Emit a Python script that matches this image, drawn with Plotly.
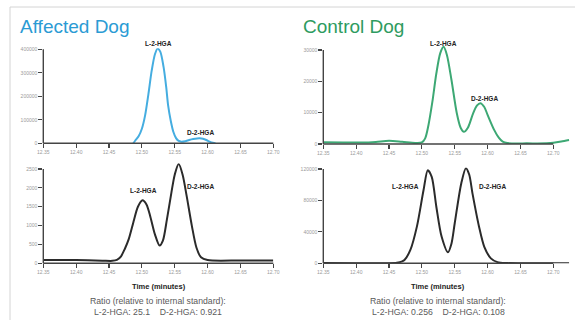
import plotly.graph_objects as go

W, H = 575, 320
FONT = "Arial, Liberation Sans, sans-serif"

# ---------------- data ----------------
x_ticks = [12.35, 12.40, 12.45, 12.50, 12.55, 12.60, 12.65, 12.70]
x_ticklabels = ["12.35", "12.40", "12.45", "12.50", "12.55", "12.60", "12.65", "12.70"]

# Affected dog, top (blue)
aff_top_t = [12.487, 12.49, 12.495, 12.50, 12.505, 12.51, 12.515, 12.52, 12.524, 12.528,
             12.533, 12.537, 12.54, 12.544, 12.548, 12.552, 12.556, 12.56, 12.566, 12.572,
             12.578, 12.584, 12.588, 12.593, 12.598, 12.603, 12.608, 12.612]
aff_top_v = [0, 12000, 30000, 62000, 120000, 210000, 310000, 380000, 403000, 390000,
             325000, 240000, 160000, 95000, 48000, 22000, 10000, 7000, 9000, 14000,
             18000, 20500, 21000, 19000, 14000, 7000, 2000, 0]
aff_top_yticks = [0, 100000, 200000, 300000, 400000]
aff_top_ylabels = ["0", "100000", "200000", "300000", "400000"]

# Affected dog, bottom (black)
aff_bot_t = [12.35, 12.40, 12.44, 12.455, 12.462, 12.468, 12.474, 12.48, 12.488, 12.494,
             12.501, 12.507, 12.513, 12.52, 12.527, 12.532, 12.538, 12.545, 12.55, 12.556,
             12.562, 12.568, 12.576, 12.583, 12.59, 12.60, 12.65, 12.70]
aff_bot_v = [90, 85, 70, 65, 90, 180, 380, 640, 1150, 1500,
             1670, 1560, 1230, 760, 470, 600, 1150, 1880, 2350, 2630,
             2350, 1800, 1000, 420, 160, 85, 75, 75]
aff_bot_yticks = [0, 500, 1000, 1500, 2000, 2500]
aff_bot_ylabels = ["0", "500", "1000", "1500", "2000", "2500"]

# Control dog, top (green)
ctl_top_t = [12.35, 12.38, 12.41, 12.43, 12.45, 12.47, 12.49, 12.50, 12.505, 12.51,
             12.516, 12.522, 12.528, 12.533, 12.538, 12.545, 12.553, 12.559, 12.564, 12.57,
             12.578, 12.584, 12.589, 12.595, 12.60, 12.61, 12.617, 12.623, 12.63, 12.66,
             12.69, 12.70, 12.712, 12.724]
ctl_top_v = [550, 500, 450, 650, 1000, 700, 350, 500, 1800, 6000,
             13500, 22500, 29000, 31000, 28500, 20500, 10000, 5200, 3900, 5200,
             9800, 12300, 13000, 11800, 9300, 4500, 2000, 750, 300, 200,
             250, 400, 800, 1300]
ctl_top_yticks = [0, 10000, 20000, 30000]
ctl_top_ylabels = ["0", "10000", "20000", "30000"]

# Control dog, bottom (black)
ctl_bot_t = [12.35, 12.40, 12.45, 12.462, 12.47, 12.4735, 12.4825, 12.4925, 12.5025, 12.509,
             12.515, 12.522, 12.53, 12.5397, 12.545, 12.55, 12.56, 12.567, 12.572, 12.577,
             12.587, 12.595, 12.605, 12.615, 12.63, 12.70, 12.724]
ctl_bot_v = [300, 200, 200, 800, 2500, 4200, 17000, 47000, 93000, 118500,
             110000, 72000, 34000, 14000, 25000, 51000, 102000, 121000, 113000, 89000,
             46600, 21000, 6300, 1500, 300, 200, 200]
ctl_bot_yticks = [0, 40000, 80000, 120000]
ctl_bot_ylabels = ["0", "40000", "80000", "120000"]

peak_labels = ["L-2-HGA", "D-2-HGA"]
titles = ["Affected Dog", "Control Dog"]
xlabel = "Time (minutes)"
ratio_head = "Ratio (relative to internal standard):"
ratio_aff = ["L-2-HGA: 25.1", "D-2-HGA: 0.921"]
ratio_ctl = ["L-2-HGA: 0.256", "D-2-HGA: 0.108"]

# ---------------- layout geometry (pixels) ----------------
BLUE_T, BLUE_L = "#2a9bd4", "#45ade0"
GREEN_T, GREEN_L = "#2e9b60", "#3da874"
BLACK_L = "#2b2b2b"
AX = "#444444"
TICKC = "#9a9a9a"

def px_x(p):
    return p / W

def px_y(p):
    return 1 - p / H

# panel: (x0px @12.35, x1px @12.70, xmax, ybot px, ytop-tick px, ytop-tick value, ymax)
panels = [
    dict(x0=43.3, x1=273.3, xmax=12.70, yb=143.3, yt=49.3, tv=400000, ymax=405000),
    dict(x0=43.3, x1=273.3, xmax=12.70, yb=263.3, yt=169.0, tv=2500, ymax=2650),
    dict(x0=323.3, x1=553.3, xmax=12.725, yb=144.0, yt=50.0, tv=30000, ymax=31500),
    dict(x0=323.3, x1=553.3, xmax=12.725, yb=263.3, yt=169.0, tv=120000, ymax=122000),
]
series = [
    (aff_top_t, aff_top_v, BLUE_L, aff_top_yticks, aff_top_ylabels),
    (aff_bot_t, aff_bot_v, BLACK_L, aff_bot_yticks, aff_bot_ylabels),
    (ctl_top_t, ctl_top_v, GREEN_L, ctl_top_yticks, ctl_top_ylabels),
    (ctl_bot_t, ctl_bot_v, BLACK_L, ctl_bot_yticks, ctl_bot_ylabels),
]

fig = go.Figure()
layout = dict(
    width=W, height=H, margin=dict(l=0, r=0, t=0, b=0, autoexpand=False),
    paper_bgcolor="white", plot_bgcolor="rgba(0,0,0,0)",
    showlegend=False, font=dict(family=FONT), hovermode=False,
)
shapes = []
annotations = []

for i, (p, (t, v, col, yt, yl)) in enumerate(zip(panels, series)):
    n = "" if i == 0 else str(i + 1)
    pxu = (p["x1"] - p["x0"]) / (12.70 - 12.35)
    xend_px = p["x0"] + (p["xmax"] - 12.35) * pxu
    pyu = (p["yb"] - p["yt"]) / p["tv"]
    ytop_px = p["yb"] - p["ymax"] * pyu
    fig.add_trace(go.Scatter(
        x=t, y=v, mode="lines", line=dict(color=col, width=2, shape="spline", smoothing=0.8),
        xaxis="x" + n, yaxis="y" + n, hoverinfo="skip"))
    layout["xaxis" + n] = dict(
        domain=[px_x(p["x0"]), px_x(xend_px)], range=[12.35, p["xmax"]], anchor="y" + n,
        showline=False, showgrid=False, zeroline=False, automargin=False, fixedrange=True,
        tickmode="array", tickvals=x_ticks, ticktext=x_ticklabels,
        ticks="outside", ticklen=4, tickwidth=1.2, tickcolor=AX,
        tickfont=dict(size=5, color=TICKC, family=FONT))
    layout["yaxis" + n] = dict(
        domain=[px_y(p["yb"]), px_y(ytop_px)], range=[0, p["ymax"]], anchor="x" + n,
        showline=False, showgrid=False, zeroline=False, automargin=False, fixedrange=True,
        tickmode="array", tickvals=yt, ticktext=yl,
        ticks="outside", ticklen=4, tickwidth=1.2, tickcolor=AX,
        tickfont=dict(size=5, color=TICKC, family=FONT))
    # axis lines (stop at last tick like the original)
    shapes.append(dict(type="line", xref="paper", yref="paper",
                       x0=px_x(p["x0"]), x1=px_x(p["x1"]), y0=px_y(p["yb"]), y1=px_y(p["yb"]),
                       line=dict(color=AX, width=1.4)))
    shapes.append(dict(type="line", xref="paper", yref="paper",
                       x0=px_x(p["x0"]), x1=px_x(p["x0"]), y0=px_y(p["yb"]), y1=px_y(p["yt"]),
                       line=dict(color=AX, width=1.4)))

# frame lines of the original figure
shapes.append(dict(type="line", xref="paper", yref="paper", x0=px_x(10), x1=1,
                   y0=px_y(7), y1=px_y(7), line=dict(color="#d4d4d4", width=1)))
shapes.append(dict(type="line", xref="paper", yref="paper", x0=px_x(10), x1=px_x(10),
                   y0=px_y(7), y1=0, line=dict(color="#d4d4d4", width=1)))

def txt(text, xpx, ypx, size, color="#222222", bold=False, xanchor="center"):
    annotations.append(dict(
        text=("<b>%s</b>" % text) if bold else text, xref="paper", yref="paper",
        x=px_x(xpx), y=px_y(ypx), xanchor=xanchor, yanchor="middle", showarrow=False,
        font=dict(size=size, color=color, family=FONT)))

# titles
txt(titles[0], 18, 26, 19, BLUE_T, xanchor="left")
txt(titles[1], 301, 26, 19, GREEN_T, xanchor="left")
# peak labels
lab_pos = [((158, 43), (200, 132)), ((143, 190), (200, 186)),
           ((443, 43), (484, 98)), ((405, 186), (492, 186))]
for (lp, dp) in lab_pos:
    txt(peak_labels[0], lp[0], lp[1], 6.5, "#222222", bold=True)
    txt(peak_labels[1], dp[0], dp[1], 6.5, "#222222", bold=True)
# axis titles
txt(xlabel, 159, 286, 7.5, "#222222", bold=True)
txt(xlabel, 438, 286, 7.5, "#222222", bold=True)
sp = "\u00a0" * 4
txt(ratio_head, 158, 300.5, 8.7, "#5a5a5a")
txt(ratio_aff[0] + sp + ratio_aff[1], 158, 311.5, 8.7, "#5a5a5a")
txt(ratio_head, 438, 300.5, 8.7, "#5a5a5a")
txt(ratio_ctl[0] + sp + ratio_ctl[1], 438, 311.5, 8.7, "#5a5a5a")

layout["shapes"] = shapes
layout["annotations"] = annotations
fig.update_layout(**layout)
fig.write_html(
    "out.html",
    config={"displayModeBar": False, "staticPlot": True},
    post_script="document.body.style.margin='0';document.body.style.padding='0';"
                "document.documentElement.style.overflow='hidden';",
)
